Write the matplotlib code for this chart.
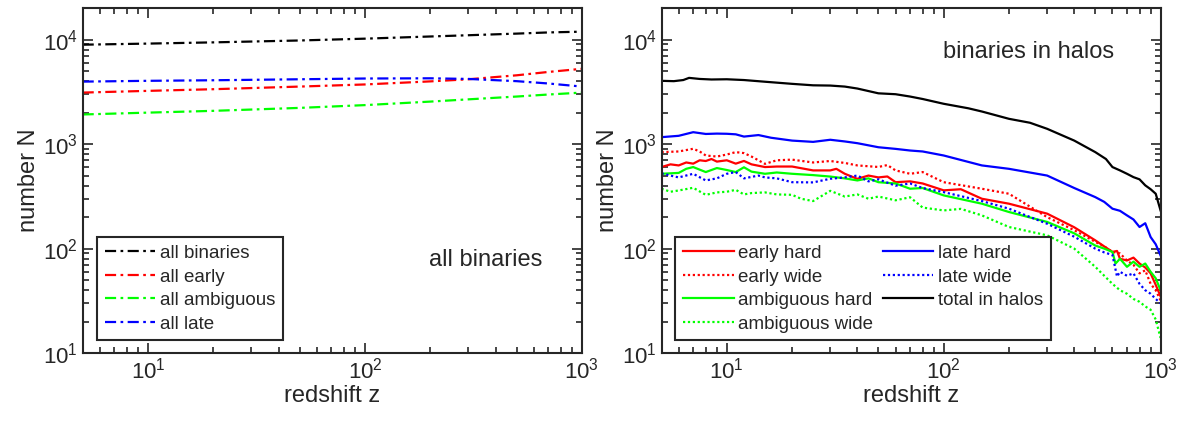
import numpy as np
import matplotlib.pyplot as plt

plt.rcParams['font.family'] = ['Liberation Sans', 'DejaVu Sans']
plt.rcParams['mathtext.fontset'] = 'custom'
plt.rcParams['mathtext.rm'] = 'Liberation Sans'
plt.rcParams['mathtext.it'] = 'Liberation Sans'
plt.rcParams['text.color'] = '#262626'
plt.rcParams['axes.labelcolor'] = '#262626'
plt.rcParams['xtick.color'] = '#262626'
plt.rcParams['ytick.color'] = '#262626'

# ---------------------------------------------------------------------------
# Data
# ---------------------------------------------------------------------------

# left panel: all binaries
z_all = [5, 10, 20, 50, 100, 200, 300, 500, 700, 1000]
all_binaries = [8930, 9150, 9400, 9800, 10200, 10700, 11000, 11400, 11700, 11900]
all_early = [3110, 3230, 3350, 3550, 3720, 3980, 4170, 4550, 4900, 5250]
all_ambiguous = [1920, 2000, 2080, 2220, 2360, 2550, 2680, 2850, 2980, 3110]
all_late = [3960, 4030, 4080, 4170, 4240, 4260, 4200, 4000, 3800, 3550]

# right panel: binaries in halos
z_total = [5, 5.7, 6.3, 6.7, 7.5, 8.5, 10, 12, 15, 20, 25, 30, 35, 40, 50, 60, 70,
           80, 100, 130, 150, 200, 250, 300, 400, 500, 560, 600, 650, 700, 750, 800,
           850, 900, 950, 1000]
total_halos = [4030, 4000, 4100, 4300, 4200, 4150, 4170, 4100, 3950, 3770, 3650, 3630,
               3550, 3400, 3060, 3000, 2850, 2700, 2430, 2200, 2050, 1745, 1600, 1400,
               1080, 838, 720, 603, 560, 520, 483, 460, 403, 370, 335, 232]

z_lh = [5, 6, 7, 8, 9, 10, 11, 12, 14, 16, 20, 25, 30, 35, 40, 50, 60, 70, 80, 100,
        150, 200, 300, 400, 500, 550, 600, 650, 700, 750, 800, 850, 900, 950, 1000]
late_hard = [1165, 1200, 1300, 1250, 1260, 1255, 1240, 1180, 1220, 1150, 1080, 1050,
             1100, 1060, 1020, 933, 900, 868, 850, 778, 625, 580, 500, 380, 311, 280,
             241, 230, 208, 190, 161, 175, 129, 110, 86]

z_eh = [5, 5.5, 6, 6.5, 7, 7.5, 8, 8.5, 9, 10, 11, 12, 13, 15, 17, 20, 25, 30, 32, 35,
        40, 45, 50, 55, 60, 70, 80, 100, 120, 150, 200, 300, 400, 500, 550, 600, 630,
        650, 700, 750, 800, 850, 900, 950, 1000]
early_hard = [603, 640, 625, 667, 650, 700, 689, 720, 680, 700, 650, 690, 640, 603, 610,
              610, 560, 560, 580, 520, 465, 500, 480, 490, 432, 440, 420, 361, 370, 300,
              269, 216, 160, 120, 105, 93, 95, 80, 77, 82, 72, 66, 58, 45, 35]

z_ew = [5, 6, 7, 7.5, 8, 9, 10, 11, 12, 13, 15, 17, 20, 25, 30, 35, 40, 50, 55, 60, 70,
        80, 100, 150, 200, 300, 400, 500, 550, 600, 650, 700, 750, 800, 850, 900, 950, 1000]
early_wide = [838, 850, 902, 850, 778, 760, 795, 838, 820, 760, 647, 700, 710, 667, 689,
              660, 625, 604, 630, 560, 520, 540, 432, 374, 335, 200, 150, 116, 105, 93,
              90, 77, 70, 58, 62, 46, 40, 32]

z_ah = [5, 6, 6.5, 7, 8, 9, 10, 11, 12, 13, 15, 17, 20, 25, 30, 35, 40, 45, 50, 60, 70,
        80, 100, 150, 200, 300, 400, 500, 550, 600, 620, 650, 700, 750, 800, 850, 900,
        950, 1000]
ambiguous_hard = [520, 530, 580, 603, 540, 590, 565, 540, 600, 545, 520, 535, 520, 505,
                  489, 470, 449, 470, 432, 420, 374, 380, 323, 269, 224, 180, 140, 107,
                  100, 93, 72, 80, 67, 75, 67, 72, 60, 52, 40]

z_lw = [5, 5.5, 6, 7, 8, 9, 10, 11, 12, 14, 15, 17, 20, 25, 30, 35, 40, 45, 50, 60, 70,
        80, 100, 150, 200, 300, 400, 500, 550, 600, 630, 650, 700, 750, 800, 850, 900,
        950, 1000]
late_wide = [525, 500, 480, 520, 449, 470, 520, 540, 470, 500, 480, 470, 432, 430, 466,
             480, 500, 440, 460, 400, 420, 380, 347, 285, 241, 173, 130, 100, 92, 87, 54,
             60, 55, 58, 46, 40, 37, 33, 30]

z_aw = [5, 5.5, 6, 7, 8, 9, 10, 11, 12, 13, 15, 17, 20, 22, 25, 30, 35, 40, 45, 50, 60,
        70, 80, 100, 120, 150, 200, 300, 400, 500, 550, 600, 650, 700, 750, 800, 850,
        900, 950, 1000]
ambiguous_wide = [374, 350, 360, 382, 327, 345, 350, 365, 330, 340, 345, 330, 327, 300,
                  285, 357, 315, 330, 300, 315, 290, 310, 247, 232, 240, 208, 161, 134,
                  100, 67, 55, 46, 40, 37, 33, 31, 28, 26, 21, 14]


# ---------------------------------------------------------------------------
# Plot
# ---------------------------------------------------------------------------

def style_axes(ax):
    ax.set_xscale('log')
    ax.set_yscale('log')
    ax.set_xlim(5, 1000)
    ax.set_ylim(10, 2e4)
    ax.tick_params(which='both', direction='in', top=True, right=True,
                   labelsize=16, width=1.2)
    ax.tick_params(which='major', length=7)
    ax.tick_params(which='minor', length=4)
    for s in ax.spines.values():
        s.set_linewidth(1.5)
        s.set_color('#262626')
    ax.set_xlabel('redshift z', fontsize=17, labelpad=1)
    ax.set_ylabel('number N', fontsize=17, labelpad=2)


def style_legend(leg):
    leg.get_frame().set_edgecolor('#262626')
    leg.get_frame().set_linewidth(1.5)


leg_kw = dict(loc='lower left', fontsize=13.5, frameon=True, fancybox=False,
              borderaxespad=0, handlelength=2.7, handletextpad=0.25,
              labelspacing=0.34, borderpad=0.4, framealpha=1)

fig = plt.figure(figsize=(11.84, 4.26), dpi=100)
ax1 = fig.add_axes([0.0698, 0.171, 0.4217, 0.810])
ax2 = fig.add_axes([0.5587, 0.171, 0.4215, 0.810])

lw = 1.6
dd = (0, (5, 2, 1.2, 2))
ax1.plot(z_all, all_binaries, color='black', ls=dd, lw=lw, label='all binaries')
ax1.plot(z_all, all_early, color='red', ls=dd, lw=lw, label='all early')
ax1.plot(z_all, all_ambiguous, color='#00ff00', ls=dd, lw=lw, label='all ambiguous')
ax1.plot(z_all, all_late, color='blue', ls=dd, lw=lw, label='all late')
style_axes(ax1)
leg1 = ax1.legend(bbox_to_anchor=(0.029, 0.038), **leg_kw)
style_legend(leg1)
ax1.text(0.808, 0.27, 'all binaries', transform=ax1.transAxes, fontsize=17,
         ha='center', va='center')

dot = (0, (1, 1.2))
ax2.plot(z_eh, early_hard, color='red', lw=lw, label='early hard')
ax2.plot(z_ew, early_wide, color='red', ls=dot, lw=lw, label='early wide')
ax2.plot(z_ah, ambiguous_hard, color='#00ff00', lw=lw, label='ambiguous hard')
ax2.plot(z_aw, ambiguous_wide, color='#00ff00', ls=dot, lw=lw, label='ambiguous wide')
ax2.plot(z_lh, late_hard, color='blue', lw=lw, label='late hard')
ax2.plot(z_lw, late_wide, color='blue', ls=dot, lw=lw, label='late wide')
ax2.plot(z_total, total_halos, color='black', lw=lw, label='total in halos')
style_axes(ax2)
leg2 = ax2.legend(bbox_to_anchor=(0.028, 0.038), ncol=2, columnspacing=0.5, **leg_kw)
style_legend(leg2)
ax2.text(0.736, 0.873, 'binaries in halos', transform=ax2.transAxes, fontsize=17,
         ha='center', va='center')

fig.savefig('out.png', dpi=100)
